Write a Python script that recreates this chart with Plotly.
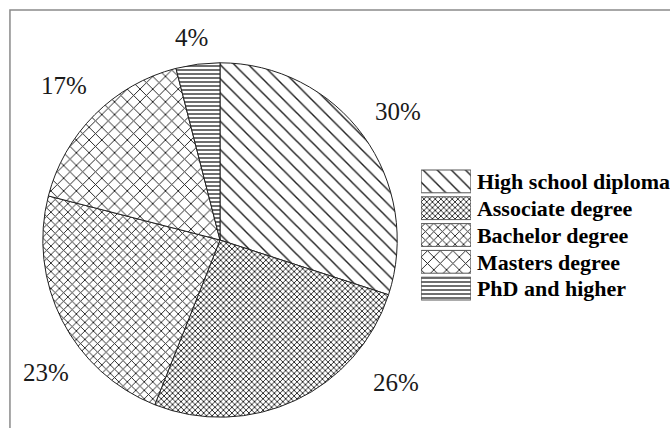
import plotly.graph_objects as go

# Education level shares (percent)
categories = ["High school diploma", "Associate degree", "Bachelor degree",
              "Masters degree", "PhD and higher"]
shares = [30, 26, 23, 17, 4]

# Hatch styles for each category
hatch_shapes = ["\\", "x", "x", "x", "-"]
hatch_sizes = [10, 4, 6, 9, 4]
hatch_solidity = [0.14, 0.4, 0.28, 0.2, 0.32]

# Where each percentage label sits (pixel coordinates, origin top-left)
label_pos = [(400, 111), (398, 382), (46, 372), (64, 85), (192, 37)]

W, H = 670, 428
cx, cy, R = 221, 240, 178

pattern = dict(shape=hatch_shapes, size=hatch_sizes, solidity=hatch_solidity,
               fgcolor="#1e1e1e", bgcolor="white", fillmode="replace")

fig = go.Figure()

fig.add_trace(go.Pie(
    labels=categories, values=shares, sort=False, direction="clockwise",
    rotation=0, textinfo="none", hoverinfo="label+percent",
    marker=dict(colors=["white"] * len(categories), pattern=pattern,
                line=dict(color="#222222", width=1)),
    domain=dict(x=[(cx - R) / W, (cx + R) / W],
                y=[(H - cy - R) / H, (H - cy + R) / H]),
    showlegend=False,
))

# Legend keys drawn as hatched swatches with bold labels on the right
fig.add_trace(go.Bar(
    y=categories, x=[1] * len(categories), orientation="h",
    marker=dict(color="white", pattern=pattern,
                line=dict(color="#555555", width=1)),
    xaxis="x2", yaxis="y2", showlegend=False, hoverinfo="y",
))

for v, (px, py) in zip(shares, label_pos):
    fig.add_annotation(x=px / W, y=1 - py / H, xref="paper", yref="paper",
                       text=f"{v}%", showarrow=False,
                       font=dict(family="Liberation Serif", size=25, color="#1a1a1a"),
                       xanchor="center", yanchor="middle")

# Outer frame of the chart area
fig.add_shape(type="rect", xref="paper", yref="paper",
              x0=10 / W, y0=-0.05, x1=1.05, y1=1 - 10 / H,
              line=dict(color="#8a8a8a", width=1.5), fillcolor="rgba(0,0,0,0)")

fig.update_layout(
    width=W, height=H, margin=dict(l=0, r=0, t=0, b=0),
    paper_bgcolor="white", plot_bgcolor="white",
    xaxis2=dict(domain=[423 / W, 473 / W], range=[0, 1], visible=False,
                anchor="y2", fixedrange=True),
    yaxis2=dict(domain=[(H - 302) / H, (H - 168) / H], anchor="x2",
                side="right", autorange="reversed", showline=False,
                showgrid=False, zeroline=False, ticks="",
                ticklabelstandoff=5,
                tickfont=dict(family="Liberation Serif", size=22,
                              color="black", weight="bold")),
    bargap=0.15,
)

fig.write_html("out.html")
